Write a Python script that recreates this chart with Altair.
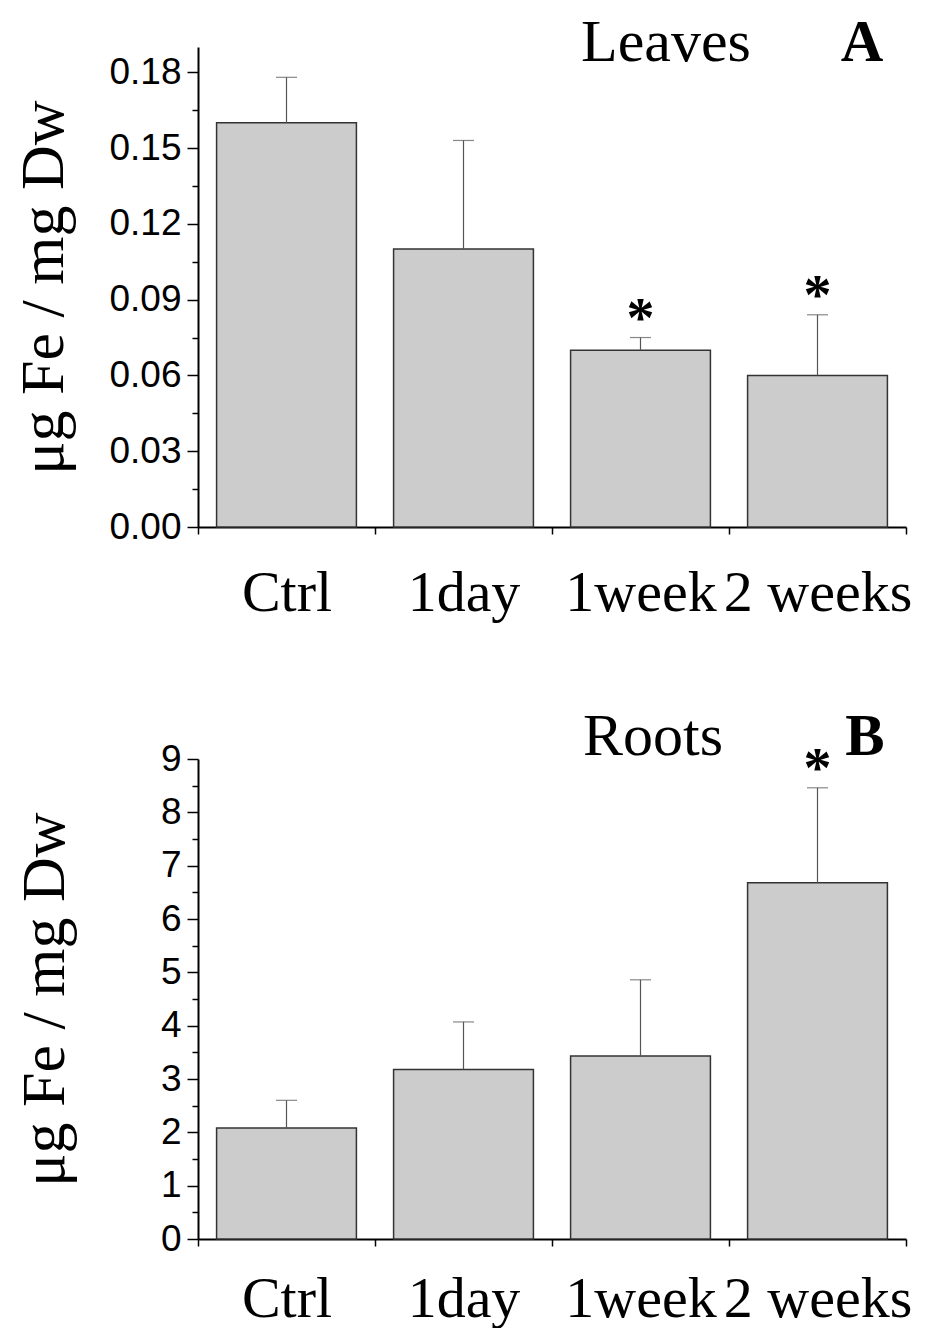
import altair as alt
import pandas as pd

categories = ["Ctrl", "1day", "1week", "2 weeks"]

leaves_mean = [0.160, 0.110, 0.070, 0.060]
leaves_err = [0.018, 0.043, 0.005, 0.024]
leaves_sig = ["", "", "*", "*"]

roots_mean = [2.08, 3.18, 3.43, 6.68]
roots_err = [0.52, 0.89, 1.43, 1.78]
roots_sig = ["", "", "", "*"]

leaves_major = [0.00, 0.03, 0.06, 0.09, 0.12, 0.15, 0.18]
leaves_minor = [0.015, 0.045, 0.075, 0.105, 0.135, 0.165]
roots_major = [0, 1, 2, 3, 4, 5, 6, 7, 8, 9]
roots_minor = [0.5, 1.5, 2.5, 3.5, 4.5, 5.5, 6.5, 7.5, 8.5]

SERIF = "Liberation Serif"
SANS = "Liberation Sans"
W, H = 708, 480

LABEL_EXPR = ("datum.value == '1day' ? '1day\u00a0\u00a0' : "
              "(datum.value == '2 weeks' ? '\u00a0\u00a02 weeks' : datum.value)")


def panel(mean, err, sig, ymax, major, minor, fmt, name, letter,
          name_x, letter_x, head_y, title_pad, label_pad):
    df = pd.DataFrame({
        "cat": categories,
        "mean": mean,
        "top": [m + e for m, e in zip(mean, err)],
        "sig": sig,
    })
    yscale = alt.Scale(domain=[0, ymax], nice=False, zero=True)
    base = alt.Chart(df).encode(
        x=alt.X("cat:N", sort=categories,
                scale=alt.Scale(paddingInner=0, paddingOuter=0),
                axis=alt.Axis(title=None, labelAngle=0, labelFont=SERIF,
                              labelFontSize=58, labelColor="black",
                              labelPadding=label_pad, labelLimit=0,
                              labelExpr=LABEL_EXPR,
                              labelOverlap=False, tickBand="extent",
                              tickSize=7, tickWidth=1.5, tickColor="black",
                              domainColor="black", domainWidth=2))
    )
    bars = base.mark_bar(width=alt.RelativeBandSize(0.79), fill="#cccccc",
                         stroke="#333333", strokeWidth=1.5).encode(
        y=alt.Y("mean:Q", scale=yscale,
                axis=alt.Axis(orient="left", values=major, format=fmt,
                              title="μg Fe / mg Dw", titleFont=SERIF,
                              titleFontSize=62, titleFontWeight="normal",
                              titleColor="black", titlePadding=title_pad,
                              labelFont=SANS, labelFontSize=37,
                              labelColor="black", labelPadding=6,
                              tickSize=11, tickWidth=1.5, tickColor="black",
                              domainColor="black", domainWidth=2,
                              grid=False))
    )
    rules = base.mark_rule(color="#555555", strokeWidth=1.2).encode(
        y=alt.Y("mean:Q", scale=yscale,
                axis=alt.Axis(orient="left", values=minor, labels=False,
                              domain=False, title=None, tickSize=6,
                              tickWidth=1.5, tickColor="black", grid=False)),
        y2="top:Q",
    )
    caps = base.mark_tick(color="#555555", thickness=1.2, size=21).encode(
        y=alt.Y("top:Q", scale=yscale, axis=None)
    )
    stars = base.mark_text(font=SERIF, fontSize=56, fontWeight="bold",
                           baseline="middle", dy=-18, color="black").encode(
        y=alt.Y("top:Q", scale=yscale, axis=None),
        text="sig:N",
    )
    head = alt.Chart(pd.DataFrame({"label": [name]})).mark_text(
        font=SERIF, fontSize=60, baseline="alphabetic", align="center",
        color="black").encode(
        x=alt.value(name_x), y=alt.value(head_y), text="label:N")
    lett = alt.Chart(pd.DataFrame({"label": [letter]})).mark_text(
        font=SERIF, fontSize=59, fontWeight="bold", baseline="alphabetic",
        align="center", color="black").encode(
        x=alt.value(letter_x), y=alt.value(head_y), text="label:N")
    return alt.layer(bars, rules, caps, stars, head, lett).resolve_axis(
        y="independent").properties(width=W, height=H)


top = panel(leaves_mean, leaves_err, leaves_sig, 0.19, leaves_major,
            leaves_minor, ".2f", "Leaves", "A", 468, 664, 14, 33, 30)
bottom = panel(roots_mean, roots_err, roots_sig, 9, roots_major,
               roots_minor, "d", "Roots", "B", 455, 667, -4, 84, 24)

chart = alt.vconcat(top, bottom, spacing=232, bounds="flush").properties(
    padding={"left": 4, "top": 5, "right": 5, "bottom": 0},
    background="white",
).configure_view(stroke=None)

chart.save("out.html", embed_options={"renderer": "svg", "actions": False})
